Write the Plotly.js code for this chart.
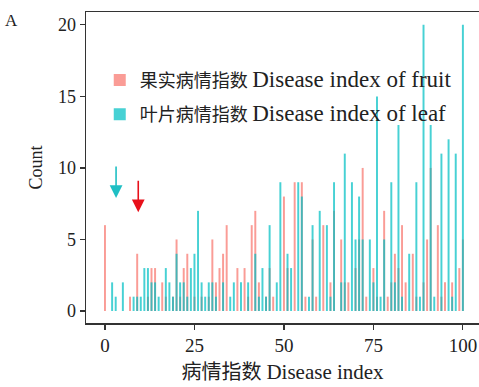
<!DOCTYPE html>
<html>
<head>
<meta charset="utf-8">
<script src="https://cdn.plot.ly/plotly-3.0.1.min.js"></script>
<style>html,body{margin:0;padding:0;background:#fff;}#chart{width:479px;height:387px;}</style>
</head>
<body>
<div id="chart"></div>
<script>
var fruitX = [0,7,9,12,13,14,16,17,19,20,21,22,23,25,27,29,30,31,32,33,34,37,39,40,41,42,43,45,46,47,50,51,53,55,56,58,59,61,63,64,66,67,68,70,71,72,73,75,76,78,79,80,81,82,83,84,86,87,89,90,91,93,94,95,97,99,100];
var fruitY = [6,1,4,1,3,3,2,1,1,5,1,3,4,1,1,1,5,2,3,4,6,3,3,1,6,7,2,1,3,1,8,3,9,9,1,5,1,6,2,7,5,2,2,3,5,10,1,3,1,7,1,2,4,3,6,2,4,1,2,5,10,6,1,2,2,3,5];
var leafX = [2,3,5,8,9,10,11,12,13,14,15,17,18,19,20,21,22,23,24,25,26,27,28,29,30,31,33,35,36,38,40,42,43,44,45,46,48,49,51,52,54,55,57,58,60,62,63,64,66,67,69,70,71,72,74,75,76,77,78,80,81,82,83,85,87,88,89,91,92,94,96,97,98,100];
var leafY = [2,1,2,1,1,1,3,3,2,2,1,3,2,1,4,2,2,1,3,4,7,2,1,2,2,1,2,1,2,2,2,4,1,3,1,6,2,9,4,3,9,8,1,6,7,6,1,9,2,11,9,5,8,5,5,2,15,1,5,9,2,13,1,4,9,1,20,13,1,11,12,1,11,20];
var xTicks = [0,25,50,75,100];
var yTicks = [0,5,10,15,20];
var fruitCn = '果实病情指数', fruitEn = 'Disease index of fruit';
var leafCn = '叶片病情指数', leafEn = 'Disease index of leaf';
var xTitleCn = '病情指数', xTitleEn = 'Disease index';

var fnt = '"Liberation Serif", "Times New Roman", "Noto Sans CJK SC", serif';
function mix(cn, en, enSize){ return cn + ' <span style="font-size:' + enSize + 'px">' + en + '</span>'; }
var traces = [
  {type:'bar', x:fruitX, y:fruitY, name:mix(fruitCn, fruitEn, 23), width:0.55, legendgroup:'a',
   marker:{color:'rgba(248,118,109,0.72)', line:{width:0}}},
  {type:'bar', x:leafX, y:leafY, name:mix(leafCn, leafEn, 23), width:0.55, legendgroup:'b',
   marker:{color:'rgba(0,191,196,0.72)', line:{width:0}}}
];
var layout = {
  width:479, height:387,
  margin:{l:86, r:0, t:12, b:64},
  barmode:'overlay',
  paper_bgcolor:'#fff', plot_bgcolor:'#fff',
  font:{family:fnt, size:18, color:'#222'},
  showlegend:true,
  legend:{x:0.035, y:0.84, xanchor:'left', yanchor:'top', bgcolor:'rgba(0,0,0,0)', traceorder:'grouped',
          font:{family:fnt, size:18, color:'#222'}, tracegroupgap:8, itemwidth:30},
  xaxis:{range:[-5.3,104.5], tickvals:xTicks, ticks:'outside', ticklen:5, tickwidth:1.2, tickcolor:'#333',
         showline:true, linecolor:'#333', linewidth:1.5, mirror:true, showgrid:false, zeroline:false,
         tickfont:{family:fnt, size:19, color:'#222'},
         title:{text:mix(xTitleCn, xTitleEn, 21), font:{family:fnt, size:20, color:'#222'}, standoff:9}},
  yaxis:{range:[-0.84,20.9], tickvals:yTicks, ticks:'outside', ticklen:5, tickwidth:1.2, tickcolor:'#333',
         showline:true, linecolor:'#333', linewidth:1.5, showgrid:false, zeroline:false,
         tickfont:{family:fnt, size:18, color:'#222'},
         title:{text:'Count', font:{family:fnt, size:18, color:'#222'}, standoff:10}},
  annotations:[
    {x:3.1, y:7.9, ax:3.1, ay:10.2, xref:'x', yref:'y', axref:'x', ayref:'y', text:'', showarrow:true,
     arrowhead:2, arrowsize:1.6, arrowwidth:1.6, arrowcolor:'#1fbfc4'},
    {x:9.3, y:6.9, ax:9.3, ay:9.2, xref:'x', yref:'y', axref:'x', ayref:'y', text:'', showarrow:true,
     arrowhead:2, arrowsize:1.6, arrowwidth:1.6, arrowcolor:'#e8101a'},
    {x:-0.21, y:0.972, xref:'paper', yref:'paper', xanchor:'left', yanchor:'middle', text:'A', showarrow:false,
     font:{family:fnt, size:17, color:'#222'}}
  ]
};
Plotly.newPlot('chart', traces, layout, {displayModeBar:false, staticPlot:true});
</script>
</body>
</html>
